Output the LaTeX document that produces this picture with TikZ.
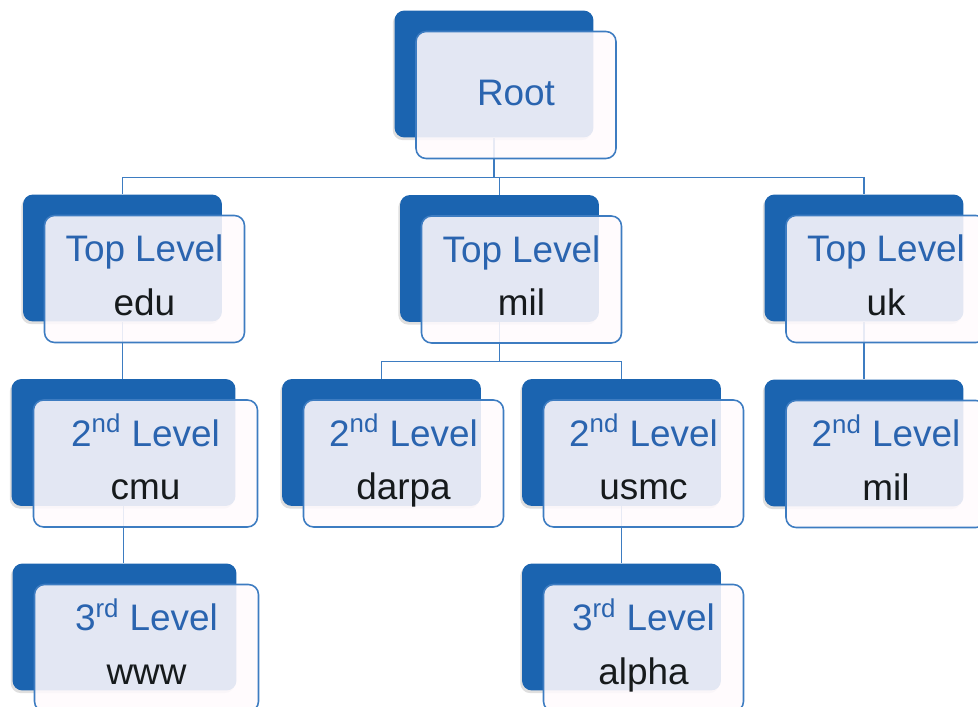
\documentclass[tikz,border=0pt]{standalone}
\usepackage{fontspec}
\setmainfont{Liberation Sans}
\usetikzlibrary{shadows,backgrounds}
\usepackage{xcolor}
\definecolor{backblue}{HTML}{1B64B0}
\definecolor{lineblue}{HTML}{3D7CC1}
\definecolor{textblue}{HTML}{2A64AF}
\definecolor{textdark}{HTML}{161A1C}
\definecolor{frontfill}{HTML}{FFFAFD}
\newcommand{\lvl}[2]{{\color{textblue}#1}\\{\color{textdark}#2}}

\begin{document}
\begin{tikzpicture}[x=0.02cm,y=-0.02cm]
    \useasboundingbox (0,0) rectangle (978,707);
    \clip (0,0) rectangle (978,707);
    \tikzset{back/.style = {shape=rectangle,rounded corners=0.2cm,fill=backblue,inner sep=0pt,minimum width=3.98cm,minimum height=2.54cm,drop shadow={shadow xshift=-1pt,shadow yshift=-1.5pt,opacity=0.25}}}
    \tikzset{front/.style = {shape=rectangle,rounded corners=0.2cm,draw=lineblue,line width=0.9pt,fill=frontfill,fill opacity=0.88,text opacity=1,inner sep=0pt,minimum width=4cm,minimum height=2.54cm,align=center,text height=1.46cm,text depth=0pt,font=\fontsize{21}{30.7}\selectfont}}
    \tikzset{wide/.style = {minimum width=4.48cm}}
    \tikzset{edge/.style = {draw=lineblue,line width=0.7pt}}
    \node[back] (rootb) at (494,74) {};
    \node[front,text height=0.4cm] (root) at ([shift={(22,21)}]rootb) {\color{textblue}Root};
    \node[back] (edub) at (122.5,258) {};
    \node[front] (edu) at ([shift={(22,21)}]edub) {\lvl{Top Level}{edu}};
    \node[back] (milb) at (499.5,258.5) {};
    \node[front] (mil) at ([shift={(22,21)}]milb) {\lvl{Top Level}{mil}};
    \node[back] (ukb) at (864,258) {};
    \node[front] (uk) at ([shift={(22,21)}]ukb) {\lvl{Top Level}{uk}};
    \node[back,wide] (cmub) at (123.5,442.5) {};
    \node[front,wide] (cmu) at ([shift={(22,21)}]cmub) {\lvl{2\textsuperscript{nd} Level}{cmu}};
    \node[back] (darpab) at (381.5,442.5) {};
    \node[front] (darpa) at ([shift={(22,21)}]darpab) {\lvl{2\textsuperscript{nd} Level}{darpa}};
    \node[back] (usmcb) at (621.5,442.5) {};
    \node[front] (usmc) at ([shift={(22,21)}]usmcb) {\lvl{2\textsuperscript{nd} Level}{usmc}};
    \node[back] (ukmilb) at (864,443) {};
    \node[front] (ukmil) at ([shift={(22,21)}]ukmilb) {\lvl{2\textsuperscript{nd} Level}{mil}};
    \node[back,wide] (wwwb) at (124.5,627) {};
    \node[front,wide] (www) at ([shift={(22,21)}]wwwb) {\lvl{3\textsuperscript{rd} Level}{www}};
    \node[back] (alphab) at (621.5,627) {};
    \node[front] (alpha) at ([shift={(22,21)}]alphab) {\lvl{3\textsuperscript{rd} Level}{alpha}};
    %edges
    \begin{scope}[on background layer]
    \draw[edge] (rootb.south) -- ++(0,40) -| (edub.north);
    \draw[edge] (rootb.south) -- ++(0,40) -| (milb.north);
    \draw[edge] (rootb.south) -- ++(0,40) -| (ukb.north);
    \draw[edge] (edub.south) -- (edub.south |- cmub.north);
    \draw[edge] (cmub.south) -- (cmub.south |- wwwb.north);
    \draw[edge] (milb.south) -- ++(0,39) -| (darpab.north);
    \draw[edge] (milb.south) -- ++(0,39) -| (usmcb.north);
    \draw[edge] (usmcb.south) -- (alphab.north);
    \draw[edge] (ukb.south) -- (ukmilb.north);
    \end{scope}
\end{tikzpicture}
\end{document}
